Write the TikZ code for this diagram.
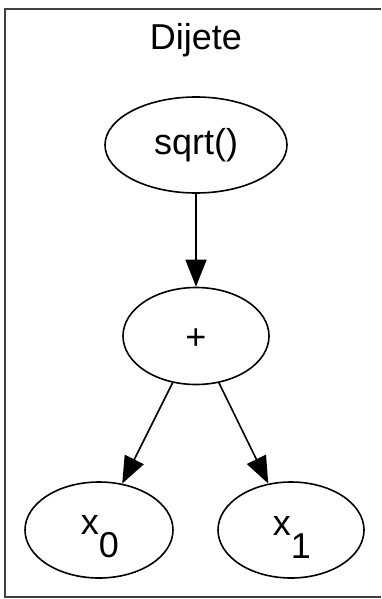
\documentclass[tikz,border=0pt]{standalone}
\usepackage{fontspec}
\setmainfont{Liberation Sans}
\usetikzlibrary{shapes.geometric,arrows.meta}
\begin{document}
\begin{tikzpicture}[x=1pt,y=-1pt,
  every node/.style={font=\fontsize{36}{40}\selectfont},
  oval/.style={ellipse,draw=black,line width=1.6pt,inner sep=0pt},
  edge/.style={line width=1.6pt,-{Triangle[length=27pt,width=21pt]}},
  frame/.style={line width=1.8pt,draw=black!75}]
\useasboundingbox (0,0) rectangle (381,599);
\draw[frame] (381,9) -- (5,9) -- (5,597) -- (381,597);
\node (title) at (196,40) {Dijete};
\node[oval,minimum width=182pt,minimum height=96pt] (root) at (196,145) {sqrt()};
\node[oval,minimum width=146pt,minimum height=97pt] (plus) at (196,336) {};
\node (plust) at (196,339) {+};
\node[oval,minimum width=148pt,minimum height=96pt] (x0) at (99,530) {};
\node[oval,minimum width=146pt,minimum height=96pt] (x1) at (291,530) {};
\node (x0t) at (100,537) {x\raisebox{-23pt}{0}};
\node (x1t) at (292,537) {x\raisebox{-23pt}{1}};
\draw[edge] (root) -- (plus);
\draw[edge] (plus) -- (x0);
\draw[edge] (plus) -- (x1);
\end{tikzpicture}
\end{document}
